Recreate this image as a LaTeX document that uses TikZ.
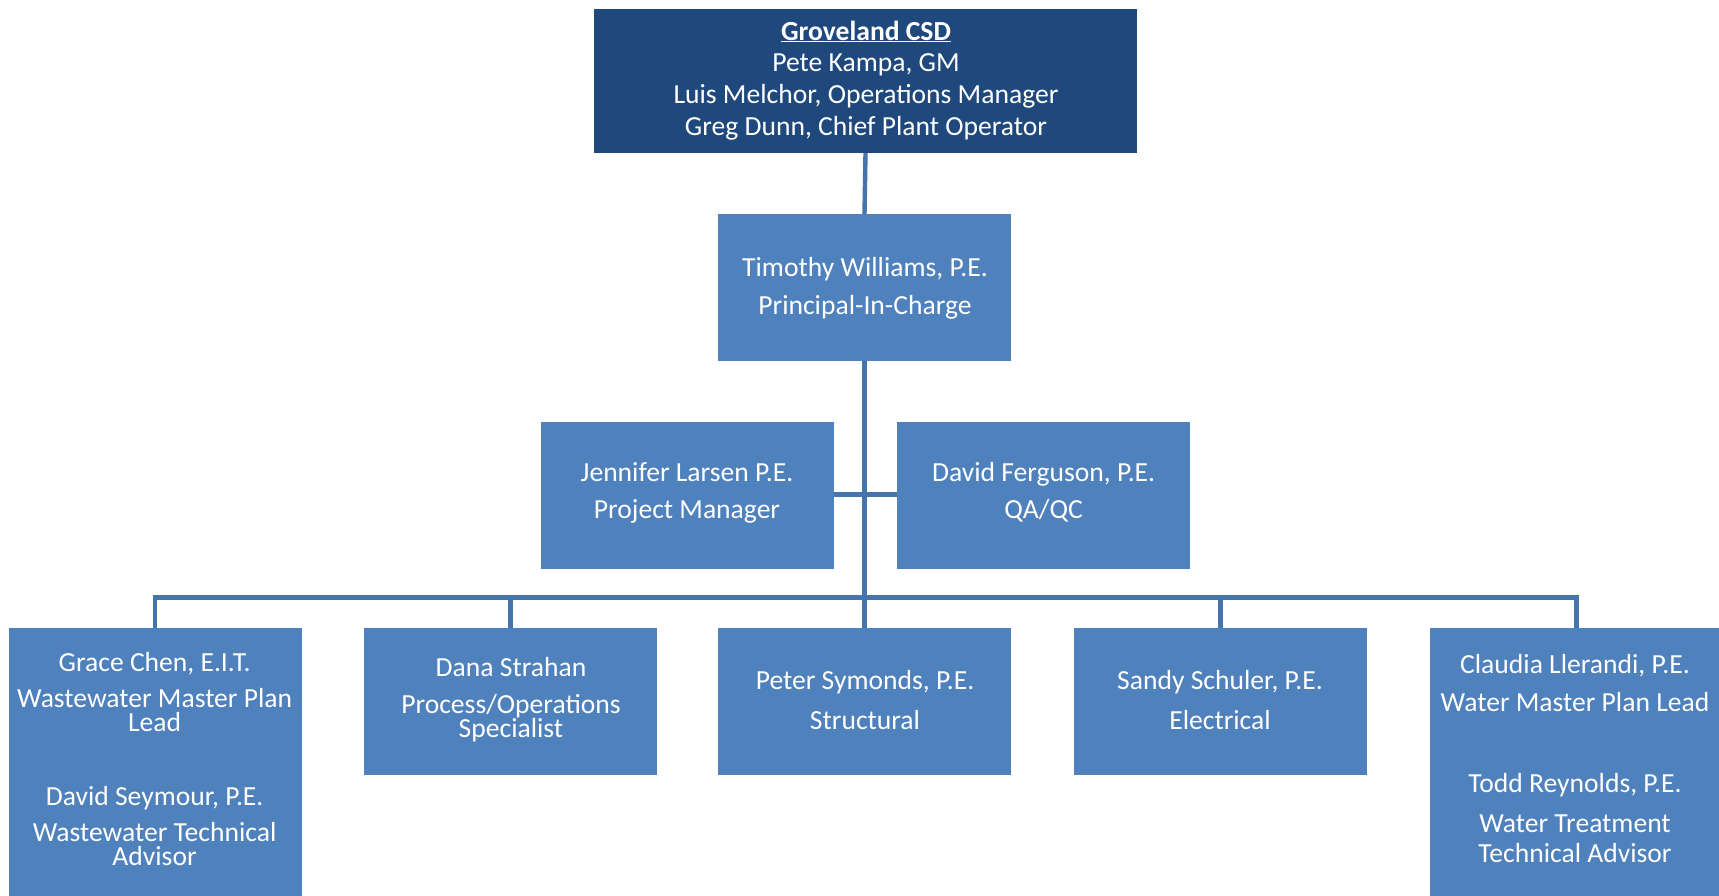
\documentclass[tikz,border=0pt]{standalone}
\usepackage{fontspec}
\setmainfont{Carlito}
\definecolor{topblue}{HTML}{1F497D}
\definecolor{boxblue}{HTML}{4F81BD}
\definecolor{lineblue}{HTML}{4674AC}
\begin{document}
\begin{tikzpicture}[x=1pt,y=-1pt,
  box/.style={fill=boxblue,draw=none,inner sep=0pt,minimum width=293pt,minimum height=147pt,anchor=center},
  topbox/.style={fill=topblue,draw=none,inner sep=0pt,minimum width=543pt,minimum height=144pt},
  txt/.style={text=white,inner sep=0pt,anchor=mid,yshift=-7pt,font=\fontsize{27.6}{32}\selectfont},
  txt2/.style={text=white,inner sep=0pt,anchor=base,yshift=-7pt,align=center,font=\fontsize{27.6}{24.2}\selectfont},
  conn/.style={draw=lineblue,line width=4.4pt}]
\clip (0,0) rectangle (1719,895);
\useasboundingbox (0,0) rectangle (1719,895);
\fill[white] (0,0) rectangle (1719,895);
% boxes
\node[topbox] (top) at (865.5,81) {};
\node[box] (tim) at (864.5,287.5) {};
\node[box] (jen) at (687,495) {};
\node[box] (dav) at (1043.5,495) {};
\node[box,minimum height=272pt] (grace) at (155,764) {};
\node[box] (dana) at (510.5,701.5) {};
\node[box] (peter) at (864.5,701.5) {};
\node[box] (sandy) at (1220.5,701.5) {};
\node[box,minimum height=272pt] (claudia) at (1576.5,764) {};
% connectors
\coordinate (busmid) at (tim.south |- 0,597.5);
\coordinate (busl) at (grace.north |- busmid);
\coordinate (busr) at (claudia.north |- busmid);
\draw[conn] (top.south) -- (tim.north);
\draw[conn] (tim.south) -- (busmid);
\draw[conn] (jen.east |- 0,494.4) -- (dav.west |- 0,494.4);
\draw[conn,line cap=rect] (busl) -- (busr);
\draw[conn] (busl) -- (grace.north);
\draw[conn] (dana.north |- busmid) -- (dana.north);
\draw[conn] (busmid) -- (peter.north);
\draw[conn] (sandy.north |- busmid) -- (sandy.north);
\draw[conn] (busr) -- (claudia.north);
% texts
\node[txt] (t1) at (866,30.7) {\textbf{\underline{Groveland CSD}}};
\node[txt] (t2) at (866,62.5) {Pete Kampa, GM};
\node[txt] (t3) at (866,94.3) {Luis Melchor, Operations Manager};
\node[txt] (t4) at (866,126) {Greg Dunn, Chief Plant Operator};
\node[txt] (tm1) at (865,267.5) {Timothy Williams, P.E.};
\node[txt] (tm2) at (865,304.8) {Principal-In-Charge};
\node[txt] (j1) at (687,472.5) {Jennifer Larsen P.E.};
\node[txt] (j2) at (687,508.7) {Project Manager};
\node[txt] (d1) at (1043.6,472.5) {David Ferguson, P.E.};
\node[txt] (d2) at (1043.6,508.7) {QA/QC};
\node[txt] (g1) at (154.6,662) {Grace Chen, E.I.T.};
\node[txt2] (g2) at (154.6,724.8) {Wastewater Master Plan\\Lead};
\node[txt] (g4) at (154.6,796) {David Seymour, P.E.};
\node[txt2] (g5) at (154.6,858.3) {Wastewater Technical\\Advisor};
\node[txt] (n1) at (511,667.6) {Dana Strahan};
\node[txt2] (n2) at (511,730.3) {Process/Operations\\Specialist};
\node[txt] (p1) at (865,679.7) {Peter Symonds, P.E.};
\node[txt] (p2) at (865,720.3) {Structural};
\node[txt] (s1) at (1220,679.7) {Sandy Schuler, P.E.};
\node[txt] (s2) at (1220,720.3) {Electrical};
\node[txt] (c1) at (1575,664.4) {Claudia Llerandi, P.E.};
\node[txt] (c2) at (1575,701.6) {Water Master Plan Lead};
\node[txt] (c3) at (1575,782.8) {Todd Reynolds, P.E.};
\node[txt2,font=\fontsize{27.6}{29.7}\selectfont] (c4) at (1575,855.3) {Water Treatment\\Technical Advisor};
\end{tikzpicture}
\end{document}
